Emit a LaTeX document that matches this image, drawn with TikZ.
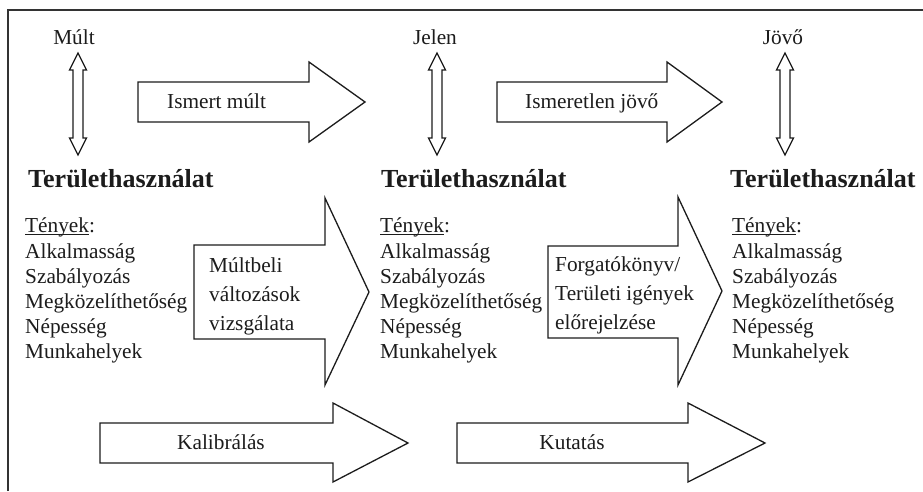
\documentclass[tikz,border=0pt]{standalone}
\usepackage{fontspec}
\setmainfont{Liberation Serif}
\definecolor{ink}{HTML}{1C1C1C}
\definecolor{frame}{HTML}{333333}
\tikzset{
  txt/.style={font=\rmfamily\fontsize{21.3}{26}\selectfont, inner sep=0pt, text=ink, anchor=base west},
  ctxt/.style={font=\rmfamily\fontsize{21.3}{26}\selectfont, inner sep=0pt, text=ink, anchor=base},
  headtxt/.style={font=\rmfamily\fontsize{26}{30}\selectfont\bfseries, inner sep=0pt, text=ink, anchor=base west},
  blk/.style={draw=ink, line width=1.3pt, fill=white, line join=miter},
}
\newcommand\ulx[1]{\setbox0\hbox{#1}\rlap{\rule[-2.6pt]{\wd0}{0.9pt}}\box0}
\newcommand\dblarr[1]{%
  \draw[blk] (#1,53) -- (#1+8.5,70) -- (#1+5,70) -- (#1+5,138) -- (#1+8.5,138) -- (#1,155)
    -- (#1-8.5,138) -- (#1-5,138) -- (#1-5,70) -- (#1-8.5,70) -- cycle;}
\begin{document}
\begin{tikzpicture}[x=1pt,y=-1pt]
\useasboundingbox (0,0) rectangle (923,491);
\fill[white] (0,0) rectangle (923,491);
% frame
\draw[frame, line width=2pt] (7.5,491) -- (7.5,10) -- (923,10);

% top labels
\node[ctxt] (mult) at (74,44) {Múlt};
\node[ctxt] (jelen) at (435,44) {Jelen};
\node[ctxt] (jovo) at (783,44) {Jövő};

% double arrows
\dblarr{78}
\dblarr{437}
\dblarr{785}

% headings
\node[headtxt] (h1) at (28,187) {Területhasználat};
\node[headtxt] (h2) at (381,187) {Területhasználat};
\node[headtxt] (h3) at (730,187) {Területhasználat};

% lists
\foreach \x/\n in {25/a,380/b,732/c}{
  \node[txt] (t\n) at (\x,232) {\ulx{Tények}:};
  \node[txt] (a\n) at (\x,258) {Alkalmasság};
  \node[txt] (s\n) at (\x,283) {Szabályozás};
  \node[txt] (m\n) at (\x,308) {Megközelíthetőség};
  \node[txt] (n\n) at (\x,333) {Népesség};
  \node[txt] (w\n) at (\x,358) {Munkahelyek};
}

% top block arrows
\draw[blk] (138,82) -- (309,82) -- (309,62) -- (365,102) -- (309,142) -- (309,122) -- (138,122) -- cycle;
\node[txt] (ism) at (167,108) {Ismert múlt};
\draw[blk] (497,82) -- (667,82) -- (667,62) -- (722,102) -- (667,142) -- (667,122) -- (497,122) -- cycle;
\node[txt] (isml) at (525,108) {Ismeretlen jövő};

% middle block arrows
\draw[blk] (194,245) -- (325,245) -- (325,198) -- (369,292) -- (325,385) -- (325,339) -- (194,339) -- cycle;
\node[txt] (mb1) at (209,272) {Múltbeli};
\node[txt] (mb2) at (209,301) {változások};
\node[txt] (mb3) at (209,330) {vizsgálata};
\draw[blk] (548,246) -- (678,246) -- (678,197) -- (722,291) -- (678,385) -- (678,338) -- (548,338) -- cycle;
\node[txt] (fk1) at (555,271) {Forgatókönyv/};
\node[txt] (fk2) at (555,300) {Területi igények};
\node[txt] (fk3) at (555,329) {előrejelzése};

% bottom block arrows
\draw[blk] (100,423) -- (333,423) -- (333,403) -- (408,443) -- (333,482) -- (333,463) -- (100,463) -- cycle;
\node[ctxt] (kal) at (221,449) {Kalibrálás};
\draw[blk] (457,423) -- (688,423) -- (688,403) -- (765,443) -- (688,482) -- (688,463) -- (457,463) -- cycle;
\node[ctxt] (kut) at (572,449) {Kutatás};
\end{tikzpicture}
\end{document}
